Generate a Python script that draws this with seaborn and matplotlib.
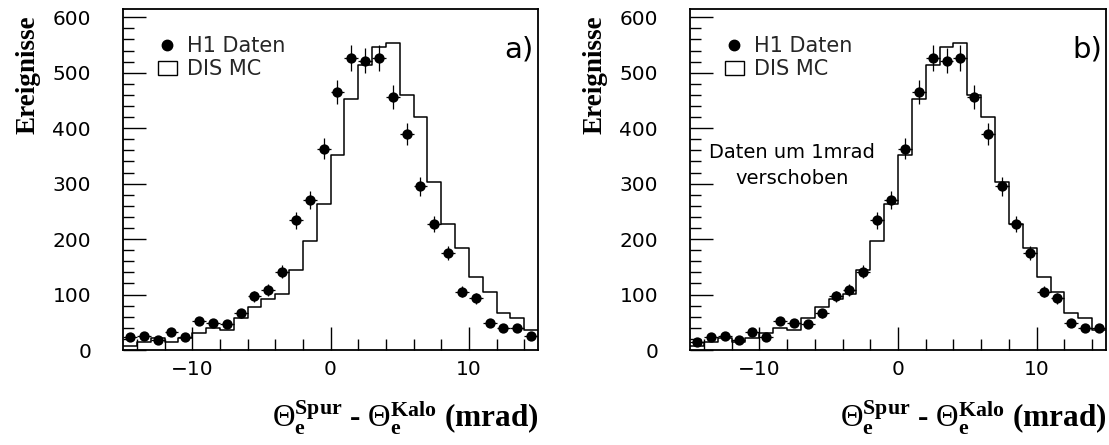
import numpy as np
import pandas as pd
import matplotlib
matplotlib.use("Agg")
import matplotlib.pyplot as plt
from matplotlib.lines import Line2D
from matplotlib.patches import Patch
from matplotlib.ticker import MultipleLocator
import seaborn as sns

# ---- data ----
x_range = (-15, 15)                      # mrad
bin_width = 1.0
bin_centers = np.arange(-14.5, 15.0, 1.0)

mc_counts = [8, 15, 22, 15, 22, 30, 39, 36, 57, 78,
             92, 101, 144, 197, 263, 352, 452, 514, 547, 553,
             460, 421, 303, 228, 184, 132, 105, 67, 57, 36]

data_a = [24, 26, 18, 32, 24, 52, 49, 46, 66, 97,
          108, 141, 234, 271, 363, 465, 527, 522, 527, 456,
          389, 295, 227, 175, 105, 93, 49, 39, 40, 25]

data_b = [15, 24, 26, 18, 32, 24, 53, 49, 46, 66,
          97, 108, 141, 234, 271, 363, 465, 527, 522, 527,
          456, 389, 295, 227, 175, 105, 93, 49, 40, 40]

panel_tags = ["a)", "b)"]
legend_labels = ["H1 Daten", "DIS MC"]
y_ticks = [0, 100, 200, 300, 400, 500, 600]
x_ticks = [-10, 0, 10]

mc_df = pd.DataFrame({"theta": bin_centers, "events": mc_counts})

# ---- style ----
sns.set_theme(style="white")
plt.rcParams["font.family"] = ["DejaVu Sans"]
plt.rcParams["mathtext.fontset"] = "custom"
plt.rcParams["mathtext.rm"] = "Liberation Serif"
plt.rcParams["mathtext.it"] = "Liberation Serif:italic"
plt.rcParams["mathtext.bf"] = "Liberation Serif:bold"
plt.rcParams["mathtext.default"] = "rm"

W, H = 1109, 445
fig = plt.figure(figsize=(W / 100, H / 100), dpi=100)
ax_a = fig.add_axes([123 / W, (H - 350) / H, 415 / W, 341 / H])
ax_b = fig.add_axes([690 / W, (H - 350) / H, 416 / W, 341 / H])

xlabel = (r"$\Theta_{\mathbf{e}}^{\mathbf{Spur}}$ - "
          r"$\Theta_{\mathbf{e}}^{\mathbf{Kalo}}$ (mrad)")

for ax, dat, tag in [(ax_a, data_a, panel_tags[0]), (ax_b, data_b, panel_tags[1])]:
    sns.histplot(data=mc_df, x="theta", weights="events", binwidth=bin_width,
                 binrange=x_range, element="step", fill=False, color="black",
                 linewidth=1.1, ax=ax)
    dat = np.asarray(dat, dtype=float)
    ax.errorbar(bin_centers, dat, yerr=np.sqrt(dat), xerr=0.5, fmt="none",
                ecolor="black", elinewidth=0.9, capsize=0, zorder=3)
    sns.scatterplot(x=bin_centers, y=dat, color="black", s=55, linewidth=0,
                    ax=ax, zorder=4)

    ax.set_xlim(*x_range)
    ax.set_ylim(0, 615)
    ax.set_xticks(x_ticks)
    ax.set_xticklabels(["\u221210", "0", "10"])
    ax.set_yticks(y_ticks)
    ax.xaxis.set_minor_locator(MultipleLocator(2))
    ax.yaxis.set_minor_locator(MultipleLocator(20))
    ax.tick_params(axis="both", which="major", direction="in", length=16.5,
                   width=1.0, color="black", labelsize=14.5, labelcolor="black")
    ax.tick_params(axis="both", which="minor", direction="in", length=8,
                   width=1.0, color="black")
    ax.tick_params(axis="y", which="major", pad=23)
    ax.tick_params(axis="x", which="major", pad=7)
    ax.tick_params(bottom=True, left=True, top=False, right=False, which="both")
    for s in ax.spines.values():
        s.set_color("black")
        s.set_linewidth(1.3)
    ax.grid(False)

    ax.set_ylabel("Ereignisse", loc="top", fontsize=19.5, fontweight="bold",
                  family="Liberation Serif", color="black")
    ax.yaxis.set_label_coords(-0.198, 0.982)
    ax.set_xlabel(xlabel, loc="right", fontsize=22.5, fontweight="bold",
                  family="Liberation Serif", color="black")
    ax.xaxis.set_label_coords(1.0, -0.145)

    handles = [Line2D([], [], marker="o", ls="none", color="black", markersize=7.5),
               Patch(facecolor="white", edgecolor="black", linewidth=1.0)]
    ax.legend(handles, legend_labels, loc="upper left",
              bbox_to_anchor=(0.084, 0.92), frameon=False, fontsize=15,
              handlelength=0.9, handleheight=0.65, handletextpad=0.5,
              labelspacing=0.15, borderpad=0, borderaxespad=0)

    ax.text(0.99, 0.88, tag, transform=ax.transAxes, ha="right", va="center",
            fontsize=21, color="black")

ax_b.text(0.245, 0.54, "Daten um 1mrad\nverschoben", transform=ax_b.transAxes,
          ha="center", va="center", fontsize=14, color="black", linespacing=1.45)

fig.savefig("out.png", dpi=100)
